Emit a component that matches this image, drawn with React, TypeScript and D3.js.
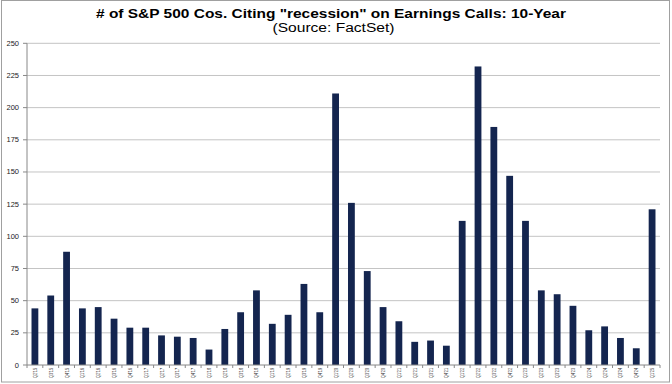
import React from "react";
import * as d3 from "d3";

const categories = [
  "Q2'15","Q3'15","Q4'15","Q1'16","Q2'16","Q3'16","Q4'16","Q1'17","Q2'17","Q3'17",
  "Q4'17","Q1'18","Q2'18","Q3'18","Q4'18","Q1'19","Q2'19","Q3'19","Q4'19","Q1'20",
  "Q2'20","Q3'20","Q4'20","Q1'21","Q2'21","Q3'21","Q4'21","Q1'22","Q2'22","Q3'22",
  "Q4'22","Q1'23","Q2'23","Q3'23","Q4'23","Q1'24","Q2'24","Q3'24","Q4'24","Q1'25",
];
const values = [
  44, 54, 88, 44, 45, 36, 29, 29, 23, 22,
  21, 12, 28, 41, 58, 32, 39, 63, 41, 211,
  126, 73, 45, 34, 18, 19, 15, 112, 232, 185,
  147, 112, 58, 55, 46, 27, 30, 21, 13, 121,
];
const yTicks = [0, 25, 50, 75, 100, 125, 150, 175, 200, 225, 250];

const W = 672, H = 384;
const left = 27, right = 660, top = 43.3, bottom = 365;

export default function App() {
  const x = d3.scaleBand<string>().domain(categories).range([left, right]).paddingInner(0.57).paddingOuter(0.285);
  const xb = d3.scaleBand<string>().domain(categories).range([left, right]);
  const y = d3.scaleLinear().domain([0, 250]).range([bottom, top]);
  return (
    <svg width={W} height={H} style={{ position: "absolute", left: 0, top: 0, background: "#fff" }}
      fontFamily="Liberation Sans, Arial, sans-serif">
      <rect x={1.5} y={0.5} width={W - 4} height={H - 2.5} fill="#fff" stroke="#a0a0a0" strokeWidth={1} />
      <text x={96} y={18.3} fontSize={12.8} fontWeight="bold" fill="#000" textLength={470} lengthAdjust="spacingAndGlyphs">
        # of S&amp;P 500 Cos. Citing "recession" on Earnings Calls: 10-Year
      </text>
      <text x={272.5} y={32} fontSize={12} fill="#000" textLength={122} lengthAdjust="spacingAndGlyphs">(Source: FactSet)</text>
      {yTicks.map((t) => (
        <g key={t}>
          {t > 0 && <line x1={left} x2={right} y1={y(t)} y2={y(t)} stroke="#c4c4c4" strokeWidth={1} />}
          <line x1={left - 4} x2={left} y1={y(t)} y2={y(t)} stroke="#888" />
          <text x={left - 8} y={y(t) + 2.5} textAnchor="end" fontSize={7.5} fill="#222">{t}</text>
        </g>
      ))}
      <line x1={left} x2={left} y1={top} y2={bottom} stroke="#888" />
      {categories.map((c, i) => (
        <rect key={c} x={x(c)} y={y(values[i])} width={x.bandwidth()} height={bottom - y(values[i])} fill="#14254f" />
      ))}
      <line x1={left} x2={right} y1={bottom} y2={bottom} stroke="#888" />
      {categories.map((c) => (
        <line key={"t" + c} x1={(xb(c) as number)} x2={(xb(c) as number)} y1={bottom} y2={bottom + 3} stroke="#888" />
      ))}
      <line x1={right} x2={right} y1={bottom} y2={bottom + 3} stroke="#888" />
      {categories.map((c) => {
        const cx = (xb(c) as number) + xb.bandwidth() / 2;
        return (
          <text key={"l" + c} transform={`translate(${cx + 2},${bottom + 3}) rotate(-90)`} textAnchor="end" fontSize={5}
            fill="#333" textLength={10} lengthAdjust="spacingAndGlyphs">
            {c}
          </text>
        );
      })}
    </svg>
  );
}
